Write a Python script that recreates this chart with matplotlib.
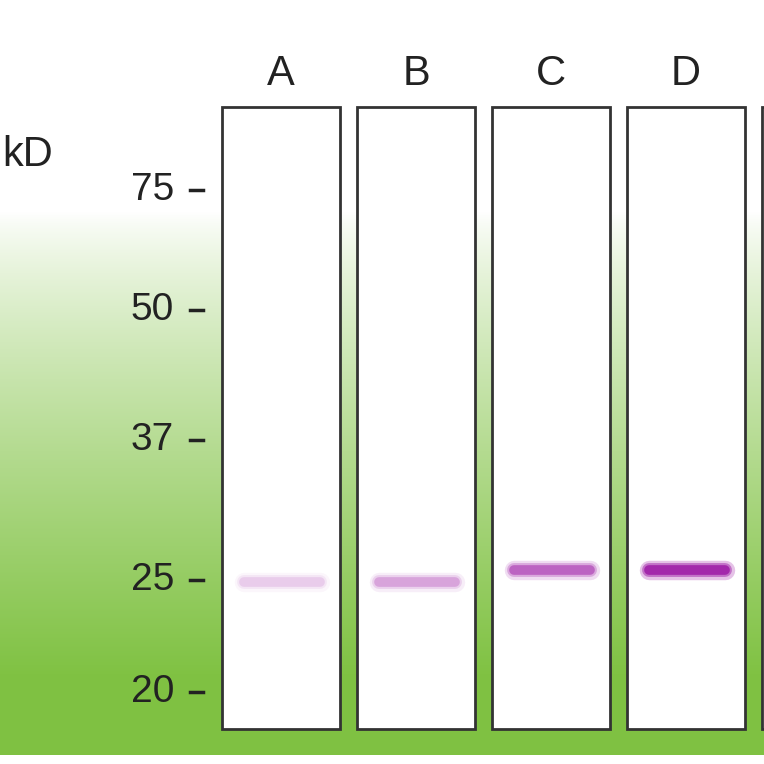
"""Western blot style lane chart with green gradient background."""

import matplotlib

matplotlib.use("Agg")
import matplotlib.pyplot as plt
import numpy as np
from matplotlib.patches import Rectangle

lanes = ["A", "B", "C", "D", ""]
band_kd = [24.9, 24.9, 25.7, 25.7]
band_intensity = [0.13, 0.25, 0.5, 0.9]
ladder_kd = [75, 50, 37, 25, 20]
ladder_px = [190, 310, 440, 580, 692]  # vertical position of each marker

W = H = 764
fig = plt.figure(figsize=(7.64, 7.64), dpi=100)
ax = fig.add_axes([0, 0, 1, 1])

# green gradient background
ys = np.linspace(0, 1, 400)
grad = np.clip((ys * H - 215) / 470, 0, 1) ** 0.8
green = np.array([0.50, 0.76, 0.26])
img = np.ones((400, 1, 3)) * (1 - grad[:, None, None]) + green * grad[:, None, None]
ax.imshow(img, extent=[0, W, 755, 0], aspect="auto", zorder=0)
ax.set_xlim(0, W)
ax.set_ylim(H, 0)
ax.axis("off")


def kd_to_y(kd):
    return np.interp(-np.log(kd), -np.log(ladder_kd), ladder_px)


lane_w, gap, x0 = 118, 17, 222
top, bottom = 107, 729
for i, name in enumerate(lanes):
    x = x0 + i * (lane_w + gap)
    ax.add_patch(Rectangle((x, top), lane_w, bottom - top, facecolor="white",
                           edgecolor="#333333", linewidth=2, zorder=2))
    if name:
        ax.text(x + lane_w / 2, 74, name, ha="center", va="center",
                fontsize=30, color="#222222", family="Liberation Sans")
    if i < len(band_kd):
        yb = kd_to_y(band_kd[i])
        a = band_intensity[i]
        for lw, al in [(14, 0.3), (10, 0.55), (7, 1.0)]:
            ax.plot([x + 22, x + lane_w - 20], [yb, yb], color="#a020a8",
                    linewidth=lw, alpha=a * al, solid_capstyle="round", zorder=3)

for kd, y in zip(ladder_kd, ladder_px):
    ax.text(174, y, str(kd), ha="right", va="center", fontsize=28,
            color="#222222", family="Liberation Sans")
    ax.plot([190, 203], [y, y], color="#222222", linewidth=2.5)

ax.text(2, 155, "kD", ha="left", va="center", fontsize=30, color="#222222",
        family="Liberation Sans")

fig.savefig("out.png", dpi=100)
